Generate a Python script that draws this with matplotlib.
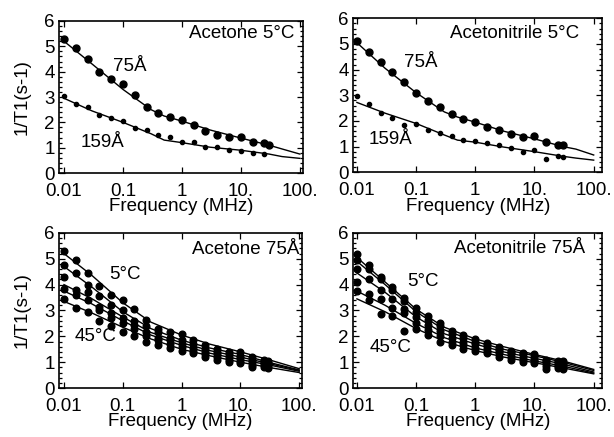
import numpy as np
import matplotlib
matplotlib.use("Agg")
import matplotlib.pyplot as plt
from matplotlib.ticker import MultipleLocator, LogLocator, NullFormatter

plt.rcParams['font.family'] = ['Liberation Sans', 'DejaVu Sans']

# measurement frequencies (MHz)
freq = [0.01, 0.0158, 0.0251, 0.0398, 0.0631, 0.1, 0.158, 0.251, 0.398, 0.631,
        1.0, 1.58, 2.51, 3.98, 6.31, 10.0, 15.8, 25.1, 30.0]
# fit-curve frequencies
fit_f_top = [0.01, 0.03, 0.1, 0.3, 0.5, 1, 3, 10, 30, 50, 100]
fit_f_bot = [0.01, 0.03, 0.1, 0.3, 1, 3, 10, 30, 100]

# Acetone 5C
ace5_75 = [5.3, 4.95, 4.5, 4.0, 3.7, 3.5, 3.08, 2.62, 2.38, 2.2, 2.1, 1.88, 1.66,
           1.5, 1.43, 1.43, 1.24, 1.17, 1.1]
ace5_159 = [3.05, 2.73, 2.6, 2.29, 2.16, 2.05, 1.77, 1.7, 1.5, 1.43, 1.24, 1.21,
            1.04, 1.02, 0.91, 0.87, 0.78, 0.74]
ace5_75_fit = [5.2, 4.3, 3.3, 2.5, 2.25, 2.05, 1.7, 1.38, 1.1, 0.95, 0.75]
ace5_159_fit = [2.95, 2.45, 2.0, 1.55, 1.3, 1.2, 1.02, 0.9, 0.75, 0.65, 0.58]

# Acetonitrile 5C
acn5_75 = [5.12, 4.69, 4.28, 3.89, 3.53, 3.1, 2.79, 2.53, 2.26, 2.07, 1.95, 1.78,
           1.65, 1.5, 1.37, 1.4, 1.17, 1.07, 1.07]
acn5_159 = [2.96, 2.66, 2.31, 2.12, 1.85, 1.89, 1.63, 1.52, 1.4, 1.24, 1.21, 1.14,
            1.07, 0.94, 0.79, 0.85, 0.53, 0.62, 0.6]
acn5_75_fit = [5.05, 4.05, 3.1, 2.35, 2.15, 1.95, 1.6, 1.3, 1.0, 0.9, 0.67]
acn5_159_fit = [2.72, 2.3, 1.9, 1.45, 1.25, 1.17, 0.98, 0.8, 0.62, 0.55, 0.47]

# Acetone 75A, 5..45C
ace75 = [
    [5.3, 4.95, 4.45, 3.95, 3.6, 3.4, 3.05, 2.65, 2.3, 2.15, 2.1, 1.85, 1.65, 1.5, 1.4, 1.4, 1.2, 1.1, 1.05],
    [4.75, 4.45, 4.0, 3.55, 3.2, 3.0, 2.6, 2.4, 2.15, 1.95, 1.85, 1.7, 1.5, 1.4, 1.3, 1.25, 1.1, 1.0, 0.98],
    [4.3, 3.8, 3.7, 3.15, 2.9, 2.7, 2.45, 2.15, 1.95, 1.85, 1.7, 1.55, 1.4, 1.3, 1.2, 1.15, 1.0, 0.95, 0.92],
    [3.85, 3.6, 3.4, 3.0, 2.7, 2.5, 2.3, 2.0, 1.85, 1.7, 1.6, 1.45, 1.3, 1.2, 1.1, 1.05, 0.9, 0.88, 0.85],
    [3.45, 3.1, 2.95, 2.6, 2.4, 2.15, 2.0, 1.8, 1.65, 1.55, 1.45, 1.35, 1.2, 1.1, 1.0, 0.95, 0.82, 0.8, 0.78],
]
ace75_fit = [
    [5.2, 4.35, 3.3, 2.55, 2.05, 1.7, 1.4, 1.1, 0.75],
    [4.7, 3.9, 2.95, 2.3, 1.85, 1.55, 1.3, 1.0, 0.7],
    [4.0, 3.45, 2.75, 2.15, 1.75, 1.45, 1.2, 0.95, 0.68],
    [3.75, 3.25, 2.6, 2.05, 1.65, 1.35, 1.1, 0.9, 0.65],
    [3.35, 2.9, 2.35, 1.9, 1.5, 1.25, 1.0, 0.8, 0.6],
]

# Acetonitrile 75A, 5..45C
acn75 = [
    [5.2, 4.75, 4.3, 3.9, 3.5, 3.1, 2.8, 2.5, 2.2, 2.05, 1.9, 1.75, 1.6, 1.45, 1.35, 1.3, 1.1, 1.05, 1.05],
    [4.95, 4.6, 4.2, 3.8, 3.35, 2.95, 2.65, 2.4, 2.1, 1.95, 1.8, 1.65, 1.5, 1.4, 1.3, 1.2, 1.05, 1.0, 0.98],
    [4.6, 4.2, 3.8, 3.45, 3.05, 2.75, 2.45, 2.2, 1.95, 1.8, 1.7, 1.55, 1.45, 1.3, 1.2, 1.1, 0.95, 0.92, 0.9],
    [4.1, 3.65, 3.45, 3.1, 2.9, 2.5, 2.25, 2.0, 1.8, 1.65, 1.55, 1.45, 1.35, 1.2, 1.1, 1.05, 0.85, 0.85, 0.82],
    [3.75, 3.4, 2.85, 2.8, 2.2, 2.3, 2.05, 1.8, 1.65, 1.5, 1.45, 1.35, 1.2, 1.1, 1.0, 0.95, 0.75, 0.78, 0.75],
]
acn75_fit = [
    [5.05, 4.1, 3.05, 2.35, 1.9, 1.6, 1.3, 1.05, 0.72],
    [4.9, 4.0, 2.95, 2.25, 1.8, 1.5, 1.25, 1.0, 0.68],
    [4.45, 3.7, 2.75, 2.1, 1.7, 1.4, 1.15, 0.93, 0.62],
    [3.75, 3.2, 2.5, 1.95, 1.55, 1.3, 1.05, 0.85, 0.58],
    [3.45, 2.95, 2.3, 1.8, 1.45, 1.2, 0.98, 0.78, 0.55],
]

xticks = [0.01, 0.1, 1, 10, 100]
xticklabels = ["0.01", "0.1", "1", "10.", "100."]
yticks = [0, 1, 2, 3, 4, 5, 6]

fig = plt.figure(figsize=(6.14, 4.37), dpi=100)
L, R = 0.096, 0.575
axTL = fig.add_axes([L, 0.604, 0.397, 0.348])
axTR = fig.add_axes([R, 0.606, 0.406, 0.352])
axBL = fig.add_axes([L, 0.112, 0.396, 0.355])
axBR = fig.add_axes([R, 0.112, 0.406, 0.355])

FS = 13.5

def style(ax, xlim, ylabel):
    ax.set_xscale('log')
    ax.set_xlim(*xlim)
    ax.set_ylim(0, 6)
    ax.set_xticks(xticks)
    ax.set_xticklabels(xticklabels)
    ax.xaxis.set_minor_locator(LogLocator(base=10, subs=np.arange(2, 10)))
    ax.xaxis.set_minor_formatter(NullFormatter())
    ax.set_yticks(yticks)
    ax.yaxis.set_minor_locator(MultipleLocator(0.2))
    ax.tick_params(which='both', direction='in', top=True, right=True,
                   labelsize=FS, width=0.9)
    ax.tick_params(axis='x', pad=7)
    ax.tick_params(axis='y', pad=3)
    ax.tick_params(which='major', length=4)
    ax.tick_params(which='minor', length=2)
    for s in ax.spines.values():
        s.set_linewidth(1.2)
    ax.set_xlabel("Frequency (MHz)", fontsize=FS, labelpad=-1)
    if ylabel:
        ax.set_ylabel("1/T1(s-1)", fontsize=FS, labelpad=10)

xl_left = (0.0082, 112)
xl_right = (0.0086, 140)

# Top-left
ax = axTL
ax.plot(fit_f_top, ace5_75_fit, color='black', lw=1.0)
ax.plot(fit_f_top, ace5_159_fit, color='black', lw=1.0)
ax.plot(freq, ace5_75, 'o', color='black', ms=5)
ax.plot(freq[:len(ace5_159)], ace5_159, 'o', color='black', ms=3)
style(ax, xl_left, True)
ax.text(0.965, 0.92, "Acetone 5°C", transform=ax.transAxes, ha='right', va='center', fontsize=FS)
ax.text(0.29, 0.70, "75Å", transform=ax.transAxes, ha='center', va='center', fontsize=FS)
ax.text(0.18, 0.20, "159Å", transform=ax.transAxes, ha='center', va='center', fontsize=FS)

# Top-right
ax = axTR
ax.plot(fit_f_top, acn5_75_fit, color='black', lw=1.0)
ax.plot(fit_f_top, acn5_159_fit, color='black', lw=1.0)
ax.plot(freq, acn5_75, 'o', color='black', ms=5)
ax.plot(freq, acn5_159, 'o', color='black', ms=3)
style(ax, xl_right, False)
ax.text(0.905, 0.90, "Acetonitrile 5°C", transform=ax.transAxes, ha='right', va='center', fontsize=FS)
ax.text(0.27, 0.71, "75Å", transform=ax.transAxes, ha='center', va='center', fontsize=FS)
ax.text(0.15, 0.21, "159Å", transform=ax.transAxes, ha='center', va='center', fontsize=FS)

# Bottom-left
ax = axBL
for ys, yf in zip(ace75, ace75_fit):
    ax.plot(fit_f_bot, yf, color='black', lw=1.0)
    ax.plot(freq, ys, 'o', color='black', ms=4.8)
style(ax, xl_left, True)
ax.text(0.99, 0.89, "Acetone 75Å", transform=ax.transAxes, ha='right', va='center', fontsize=FS)
ax.text(0.27, 0.73, "5°C", transform=ax.transAxes, ha='center', va='center', fontsize=FS)
ax.text(0.15, 0.33, "45°C", transform=ax.transAxes, ha='center', va='center', fontsize=FS)

# Bottom-right
ax = axBR
for ys, yf in zip(acn75, acn75_fit):
    ax.plot(fit_f_bot, yf, color='black', lw=1.0)
    ax.plot(freq, ys, 'o', color='black', ms=4.8)
style(ax, xl_right, False)
ax.text(0.93, 0.90, "Acetonitrile 75Å", transform=ax.transAxes, ha='right', va='center', fontsize=FS)
ax.text(0.28, 0.69, "5°C", transform=ax.transAxes, ha='center', va='center', fontsize=FS)
ax.text(0.15, 0.26, "45°C", transform=ax.transAxes, ha='center', va='center', fontsize=FS)

fig.savefig("out.png", dpi=100)
